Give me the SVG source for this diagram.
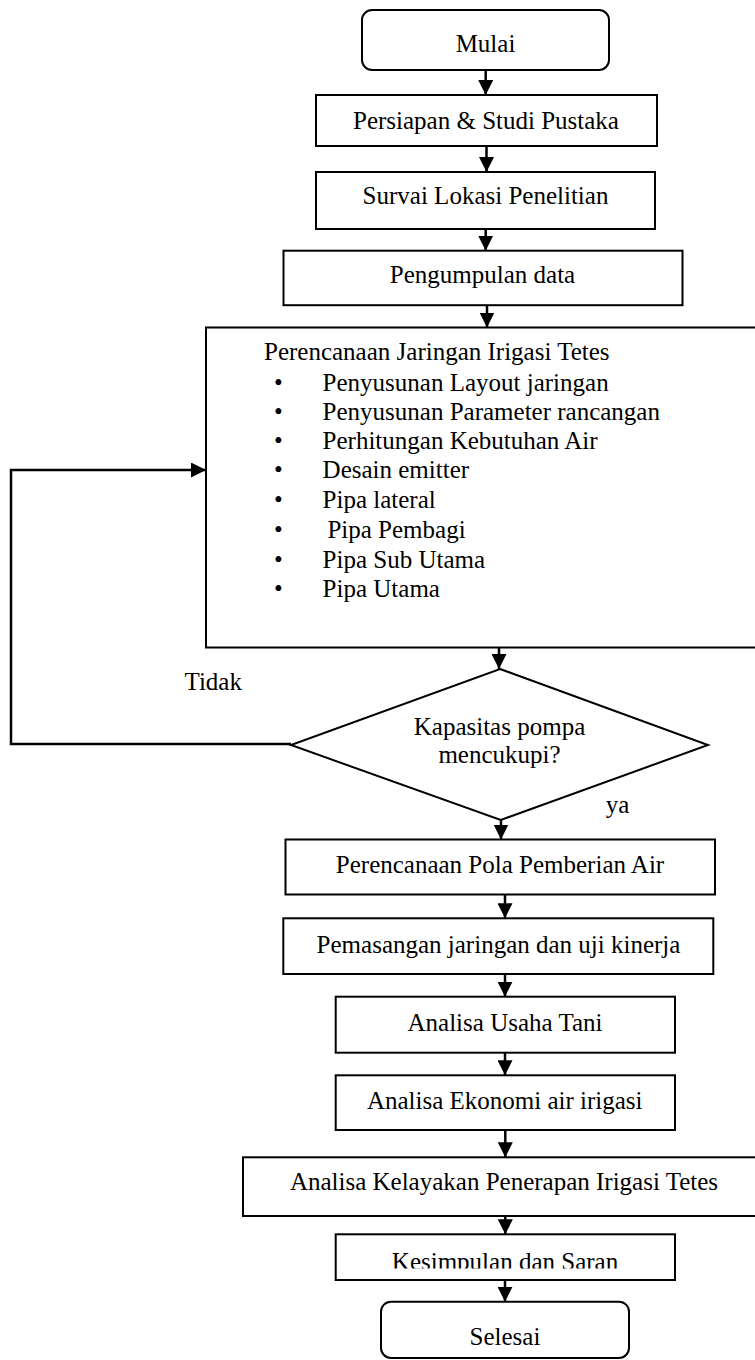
<svg xmlns="http://www.w3.org/2000/svg" width="755" height="1360" viewBox="0 0 755 1360">
<style>
.box{fill:#fff;stroke:#000;stroke-width:2}
.t{font-family:"Liberation Serif","Times New Roman",serif;font-size:25px;fill:#000}
.c{text-anchor:middle}
.ln{fill:none;stroke:#000;stroke-width:2.5}
</style>
<defs>
<marker id="ah" markerUnits="userSpaceOnUse" markerWidth="15" markerHeight="15" refX="15" refY="7.5" orient="auto">
<path d="M0,0 L15,7.5 L0,15 z" fill="#000"/>
</marker>
<clipPath id="kclip"><rect x="330" y="1236" width="350" height="32.5"/></clipPath>
</defs>
<rect width="755" height="1360" fill="#fff"/>
<g id="connectors">
<line class="ln" x1="485.7" y1="70" x2="485.7" y2="95" marker-end="url(#ah)"/>
<line class="ln" x1="486.5" y1="146" x2="486.5" y2="172" marker-end="url(#ah)"/>
<line class="ln" x1="485.7" y1="229" x2="485.7" y2="250.7" marker-end="url(#ah)"/>
<line class="ln" x1="487" y1="305" x2="487" y2="327.5" marker-end="url(#ah)"/>
<line class="ln" x1="499" y1="645" x2="499" y2="669" marker-end="url(#ah)"/>
<line class="ln" x1="501" y1="820" x2="501" y2="839.5" marker-end="url(#ah)"/>
<line class="ln" x1="505" y1="894" x2="505" y2="918.3" marker-end="url(#ah)"/>
<line class="ln" x1="505" y1="974" x2="505" y2="996.7" marker-end="url(#ah)"/>
<line class="ln" x1="505" y1="1052.7" x2="505" y2="1075.3" marker-end="url(#ah)"/>
<line class="ln" x1="505.3" y1="1130" x2="505.3" y2="1157.3" marker-end="url(#ah)"/>
<line class="ln" x1="505.3" y1="1211" x2="505.3" y2="1234.3" marker-end="url(#ah)"/>
<line class="ln" x1="505" y1="1279" x2="505" y2="1301.7" marker-end="url(#ah)"/>
<polyline class="ln" points="291,744 11,744 11,470 206,470" marker-end="url(#ah)"/>
<text class="t" x="184.5" y="690">Tidak</text>
<text class="t" x="605.7" y="813">ya</text>
</g>
<g id="start">
<rect class="box" x="362" y="10" width="247" height="60" rx="10"/>
<text class="t c" x="485.5" y="52">Mulai</text>
</g>
<g id="persiapan">
<rect class="box" x="316" y="95" width="341" height="51"/>
<text class="t c" x="486" y="129">Persiapan &amp; Studi Pustaka</text>
</g>
<g id="survai">
<rect class="box" x="316" y="172" width="339" height="57"/>
<text class="t c" x="485.5" y="204">Survai Lokasi Penelitian</text>
</g>
<g id="pengumpulan">
<rect class="box" x="283.5" y="250.7" width="399" height="54.5"/>
<text class="t c" x="482.5" y="283">Pengumpulan data</text>
</g>
<g id="perencanaan">
<rect class="box" x="206" y="327.5" width="560" height="320"/>
<text class="t" x="264" y="360">Perencanaan Jaringan Irigasi Tetes</text>
<text class="t c" x="278.5" y="391">•</text>
<text class="t" x="322.6" y="391">Penyusunan Layout jaringan</text>
<text class="t c" x="278.5" y="420">•</text>
<text class="t" x="322.6" y="420">Penyusunan Parameter rancangan</text>
<text class="t c" x="278.5" y="449.3">•</text>
<text class="t" x="322.6" y="449.3">Perhitungan Kebutuhan Air</text>
<text class="t c" x="278.5" y="478.3">•</text>
<text class="t" x="322.6" y="478.3">Desain emitter</text>
<text class="t c" x="278.5" y="508">•</text>
<text class="t" x="322.6" y="508">Pipa lateral</text>
<text class="t c" x="278.5" y="537.7">•</text>
<text class="t" x="327.4" y="537.7">Pipa Pembagi</text>
<text class="t c" x="278.5" y="567.5">•</text>
<text class="t" x="322.6" y="567.5">Pipa Sub Utama</text>
<text class="t c" x="278.5" y="596.7">•</text>
<text class="t" x="322.6" y="596.7">Pipa Utama</text>
</g>
<g id="keputusan">
<polygon class="box" points="500,669 708,745 500.7,820 291,745"/>
<text class="t c" x="499.5" y="735">Kapasitas pompa</text>
<text class="t c" x="499.5" y="763">mencukupi?</text>
</g>
<g id="pola">
<rect class="box" x="285.5" y="839.5" width="429.5" height="55"/>
<text class="t c" x="500" y="873">Perencanaan Pola Pemberian Air</text>
</g>
<g id="pemasangan">
<rect class="box" x="283.3" y="918.3" width="430" height="55.7"/>
<text class="t c" x="498.5" y="952.7">Pemasangan jaringan dan uji kinerja</text>
</g>
<g id="usahatani">
<rect class="box" x="335.7" y="996.7" width="339.3" height="56"/>
<text class="t c" x="505" y="1030.7">Analisa Usaha Tani</text>
</g>
<g id="ekonomi">
<rect class="box" x="335.7" y="1075.3" width="339.3" height="54.7"/>
<text class="t c" x="504.7" y="1109">Analisa Ekonomi air irigasi</text>
</g>
<g id="kelayakan">
<rect class="box" x="243" y="1157.3" width="530" height="58.7"/>
<text class="t c" x="504" y="1190">Analisa Kelayakan Penerapan Irigasi Tetes</text>
</g>
<g id="kesimpulan">
<rect class="box" x="335.7" y="1234.3" width="339.3" height="45.7"/>
<text class="t c" x="505" y="1270" clip-path="url(#kclip)">Kesimpulan dan Saran</text>
</g>
<g id="end">
<rect class="box" x="381" y="1301.7" width="248" height="56.3" rx="10"/>
<text class="t c" x="505" y="1345">Selesai</text>
</g>
</svg>
